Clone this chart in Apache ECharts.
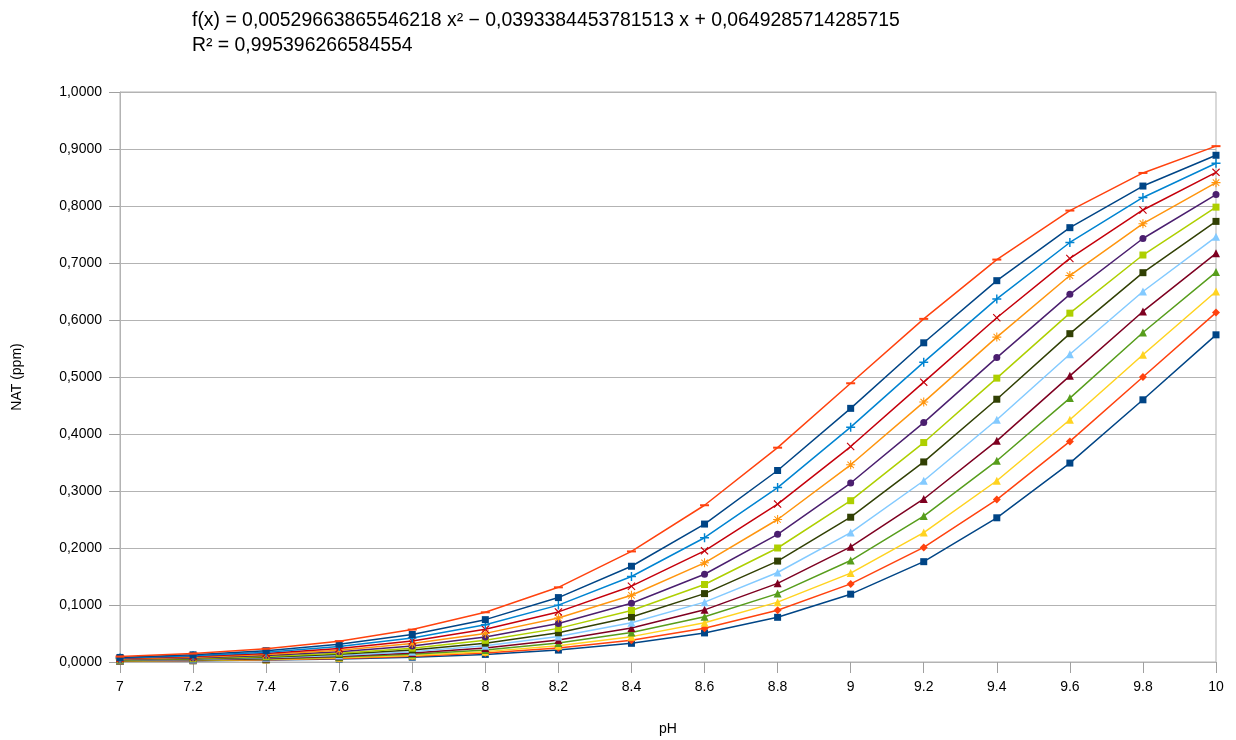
<!DOCTYPE html>
<html lang="fr">
<head>
    <meta charset="UTF-8">
    <title>NAT (ppm) / pH</title>
    <script src="https://cdn.jsdelivr.net/npm/echarts/dist/echarts.min.js"></script>
    <style>
        html, body { margin: 0; padding: 0; background: #fff; }
        #chart { width: 1236px; height: 740px; }
    </style>
</head>
<body>
<div id="chart"></div>

<script>
    // pH categories (x axis)
    const phLabels = ['7', '7.2', '7.4', '7.6', '7.8', '8', '8.2', '8.4', '8.6', '8.8', '9', '9.2', '9.4', '9.6', '9.8', '10'];

    // NAT values, lowest curve first
    const s01 = [0.0013, 0.0021, 0.0034, 0.0053, 0.0084, 0.0133, 0.0209, 0.0328, 0.0510, 0.0784, 0.119, 0.176, 0.253, 0.349, 0.460, 0.574];
    const s02 = [0.0016, 0.0025, 0.0040, 0.0063, 0.0099, 0.0156, 0.0245, 0.0383, 0.0593, 0.0909, 0.137, 0.201, 0.285, 0.387, 0.500, 0.613];
    const s03 = [0.0019, 0.0029, 0.0046, 0.0073, 0.0116, 0.0182, 0.0285, 0.0445, 0.0687, 0.105, 0.156, 0.227, 0.318, 0.425, 0.539, 0.650];
    const s04 = [0.0022, 0.0034, 0.0054, 0.0086, 0.0135, 0.0212, 0.0332, 0.0516, 0.0794, 0.120, 0.178, 0.256, 0.353, 0.463, 0.578, 0.684];
    const s05 = [0.0025, 0.0040, 0.0063, 0.0100, 0.0157, 0.0247, 0.0385, 0.0597, 0.0915, 0.138, 0.202, 0.286, 0.388, 0.502, 0.615, 0.717];
    const s06 = [0.0029, 0.0046, 0.0073, 0.0116, 0.0182, 0.0286, 0.0446, 0.0689, 0.105, 0.157, 0.227, 0.318, 0.425, 0.540, 0.650, 0.746];
    const s07 = [0.0034, 0.0054, 0.0085, 0.0134, 0.0211, 0.0330, 0.0513, 0.0789, 0.120, 0.177, 0.254, 0.351, 0.461, 0.576, 0.683, 0.773];
    const s08 = [0.0039, 0.0062, 0.0098, 0.0155, 0.0243, 0.0380, 0.0590, 0.0904, 0.136, 0.200, 0.283, 0.385, 0.498, 0.612, 0.714, 0.798];
    const s09 = [0.0046, 0.0072, 0.0114, 0.0179, 0.0280, 0.0437, 0.0675, 0.103, 0.154, 0.224, 0.314, 0.420, 0.534, 0.645, 0.743, 0.820];
    const s10 = [0.0053, 0.0083, 0.0131, 0.0206, 0.0323, 0.0502, 0.0773, 0.117, 0.174, 0.250, 0.346, 0.456, 0.570, 0.678, 0.769, 0.841];
    const s11 = [0.0060, 0.0095, 0.0150, 0.0237, 0.0370, 0.0573, 0.0879, 0.133, 0.195, 0.277, 0.378, 0.491, 0.604, 0.708, 0.793, 0.859];
    const s12 = [0.0070, 0.0110, 0.0173, 0.0271, 0.0423, 0.0654, 0.0998, 0.150, 0.218, 0.306, 0.412, 0.526, 0.637, 0.736, 0.815, 0.875];
    const s13 = [0.0080, 0.0126, 0.0198, 0.0310, 0.0482, 0.0743, 0.113, 0.168, 0.242, 0.336, 0.445, 0.560, 0.669, 0.762, 0.835, 0.889];
    const s14 = [0.0095, 0.0149, 0.0234, 0.0366, 0.0569, 0.0872, 0.131, 0.194, 0.275, 0.376, 0.489, 0.602, 0.706, 0.792, 0.858, 0.905];

    const allSeries = [s01, s02, s03, s04, s05, s06, s07, s08, s09, s10, s11, s12, s13, s14];

    // regression text shown above the plot
    const trendText = 'f(x) = 0,00529663865546218 x² − 0,0393384453781513 x + 0,0649285714285715';
    const r2Text = 'R² = 0,995396266584554';

    // LibreOffice default palette, repeated
    const colors = ['#004586', '#ff420e', '#ffd320', '#579d1c', '#7e0021', '#83caff', '#314004',
        '#aecf00', '#4b1f6f', '#ff950e', '#c5000b', '#0084d1', '#004586', '#ff420e'];

    const xPath = 'path://M0,1L1,0L5,4L9,0L10,1L6,5L10,9L9,10L5,6L1,10L0,9L4,5Z';
    const plusPath = 'path://M4.2,0H5.8V4.2H10V5.8H5.8V10H4.2V5.8H0V4.2H4.2Z';
    const starPath = 'path://M4.4,0H5.6V4.4H10V5.6H5.6V10H4.4V5.6H0V4.4H4.4Z' +
        'M1,1.8L1.8,1L5,4.2L8.2,1L9,1.8L5.8,5L9,8.2L8.2,9L5,5.8L1.8,9L1,8.2L4.2,5Z';

    const symbols = ['rect', 'diamond', 'triangle', 'triangle', 'triangle', 'triangle', 'rect',
        'rect', 'circle', starPath, xPath, plusPath, 'rect', 'rect'];
    const symbolSizes = [7, 8, 8, 8, 8, 8, 7, 7, 7, 9, 8, 9, 7, [9, 2]];

    const chart = echarts.init(document.getElementById('chart'));

    const option = {
        animation: false,
        textStyle: { fontFamily: 'Liberation Sans, Arial, sans-serif' },
        title: {
            text: trendText + '\n' + r2Text,
            left: 192,
            top: 8,
            padding: 0,
            textStyle: {
                fontSize: 19.4,
                fontWeight: 'normal',
                color: '#000',
                lineHeight: 25,
                fontFamily: 'Liberation Sans, Arial, sans-serif'
            }
        },
        grid: {
            left: 120,
            right: 20,
            top: 92,
            bottom: 78,
            outerBoundsMode: 'none',
            show: true,
            borderColor: '#b3b3b3',
            borderWidth: 1
        },
        xAxis: {
            type: 'category',
            data: phLabels,
            boundaryGap: false,
            name: 'pH',
            nameLocation: 'middle',
            nameGap: 60,
            nameTextStyle: { fontSize: 14, color: '#000' },
            axisLine: { lineStyle: { color: '#b3b3b3' } },
            axisTick: { show: true, length: 11, lineStyle: { color: '#a0a0a0' } },
            axisLabel: { interval: 0, fontSize: 14, color: '#000', margin: 18 },
            splitLine: { show: false }
        },
        yAxis: {
            type: 'value',
            min: 0,
            max: 1,
            interval: 0.1,
            name: 'NAT (ppm)',
            nameLocation: 'middle',
            nameRotate: 90,
            nameGap: 96,
            nameTextStyle: { fontSize: 14, color: '#000' },
            axisLine: { show: true, lineStyle: { color: '#b3b3b3' } },
            axisTick: { show: true, length: 11, lineStyle: { color: '#a0a0a0' } },
            axisLabel: {
                fontSize: 14,
                color: '#000',
                margin: 18,
                formatter: v => v.toFixed(4).replace('.', ',')
            },
            splitLine: { lineStyle: { color: '#b3b3b3' } }
        },
        series: allSeries.map((vals, i) => ({
            name: 'Série ' + (i + 1),
            type: 'line',
            data: vals,
            symbol: symbols[i],
            symbolSize: symbolSizes[i],
            showAllSymbol: true,
            color: colors[i],
            lineStyle: { width: 1.5, color: colors[i] },
            itemStyle: { color: colors[i], borderWidth: 0 },
            z: 2 + i
        }))
    };

    chart.setOption(option);
</script>
</body>
</html>
